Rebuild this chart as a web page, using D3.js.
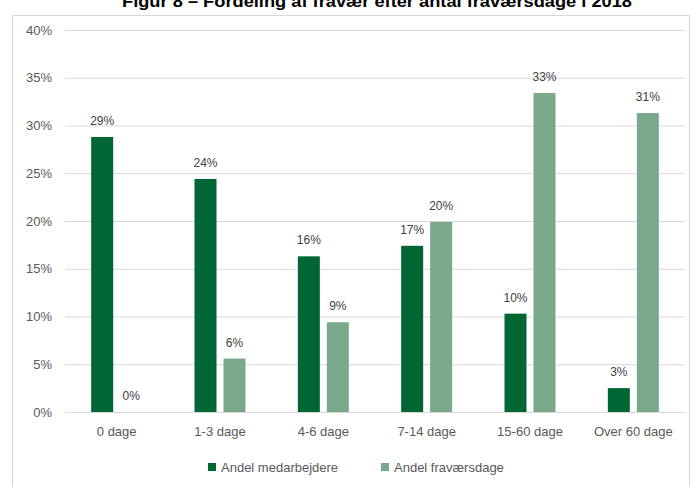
<!DOCTYPE html>
<html>
<head>
<meta charset="utf-8">
<script src="https://cdn.jsdelivr.net/npm/d3@7"></script>
<style>
  body { margin: 0; background: #fff; }
  text { font-family: "Liberation Sans", Arial, sans-serif; }
</style>
</head>
<body>
<div class="canvas"></div>
<script>
// chart data
const categories = ['0 dage', '1-3 dage', '4-6 dage', '7-14 dage', '15-60 dage', 'Over 60 dage'];
const seriesNames = ['Andel medarbejdere', 'Andel fraværsdage'];
const medarbejdere = [0.288, 0.244, 0.163, 0.174, 0.103, 0.025];
const fravaersdage = [0.0, 0.056, 0.094, 0.199, 0.334, 0.313];
const yTicks = [0, 0.05, 0.10, 0.15, 0.20, 0.25, 0.30, 0.35, 0.40];

const colour = d3.scaleOrdinal(seriesNames, ['#006633', '#79a98a']);

const dims = { width: 693, height: 487 };
const plot = { left: 65, right: 685, top: 30, bottom: 412 };

const svg = d3.select('.canvas')
  .append('svg')
  .attr('width', dims.width)
  .attr('height', dims.height);

// chart frame
svg.append('rect')
  .attr('x', 12.5).attr('y', 15.5)
  .attr('width', 677).attr('height', 480)
  .attr('fill', 'none')
  .attr('stroke', '#d9d9d9');

// title (cut off at the top like the reference)
svg.append('text')
  .attr('x', 377).attr('y', 7)
  .attr('text-anchor', 'middle')
  .attr('font-size', 16)
  .attr('font-weight', 'bold')
  .attr('fill', '#000')
  .attr('textLength', 510)
  .attr('lengthAdjust', 'spacingAndGlyphs')
  .text('Figur 8 – Fordeling af fravær efter antal fraværsdage i 2018');

// scales
const y = d3.scaleLinear().domain([0, 0.40]).range([plot.bottom, plot.top]);
const x0 = d3.scaleBand().domain(categories).range([plot.left, plot.right]).padding(0);
const groupW = 51;
const x1 = d3.scaleBand().domain(seriesNames).range([0, groupW]).paddingInner(7 / 29);

// gridlines
const yAxis = d3.axisLeft(y)
  .tickValues(yTicks)
  .tickSize(-(plot.right - plot.left))
  .tickPadding(13)
  .tickFormat(d3.format('.0%'));

const yG = svg.append('g')
  .attr('transform', `translate(${plot.left},0)`)
  .call(yAxis);
yG.select('.domain').remove();
yG.selectAll('line').attr('stroke', '#d9d9d9');
yG.selectAll('text')
  .attr('fill', '#595959')
  .attr('font-size', 13);

// x axis labels
const xAxis = d3.axisBottom(x0).tickSize(0).tickPadding(15);
const xG = svg.append('g')
  .attr('transform', `translate(0,${plot.bottom})`)
  .call(xAxis);
xG.select('.domain').attr('stroke', '#d9d9d9');
xG.selectAll('text')
  .attr('fill', '#595959')
  .attr('font-size', 13);

// bars
const rows = categories.map((c, i) => ({
  cat: c,
  vals: [
    { name: seriesNames[0], value: medarbejdere[i] },
    { name: seriesNames[1], value: fravaersdage[i] }
  ]
}));

const groups = svg.append('g').selectAll('g')
  .data(rows)
  .enter()
  .append('g')
  .attr('transform', d => `translate(${x0(d.cat) + (x0.bandwidth() - groupW) / 2},0)`);

groups.selectAll('rect')
  .data(d => d.vals)
  .enter()
  .append('rect')
  .attr('x', d => x1(d.name))
  .attr('y', d => y(d.value))
  .attr('width', x1.bandwidth())
  .attr('height', d => y(0) - y(d.value))
  .attr('fill', d => colour(d.name));

// data labels
groups.selectAll('text')
  .data(d => d.vals)
  .enter()
  .append('text')
  .attr('x', d => x1(d.name) + x1.bandwidth() / 2)
  .attr('y', d => y(d.value) - 12)
  .attr('text-anchor', 'middle')
  .attr('font-size', 12)
  .attr('fill', '#404040')
  .text(d => d3.format('.0%')(d.value));

// legend
const legendItems = [
  { name: seriesNames[0], x: 208 },
  { name: seriesNames[1], x: 381 }
];
const legend = svg.append('g').selectAll('g')
  .data(legendItems)
  .enter()
  .append('g')
  .attr('transform', d => `translate(${d.x},467)`);

legend.append('rect')
  .attr('x', 0).attr('y', -4)
  .attr('width', 8).attr('height', 8)
  .attr('fill', d => colour(d.name));

legend.append('text')
  .attr('x', 13).attr('y', 5)
  .attr('font-size', 13)
  .attr('fill', '#595959')
  .text(d => d.name);
</script>
</body>
</html>
